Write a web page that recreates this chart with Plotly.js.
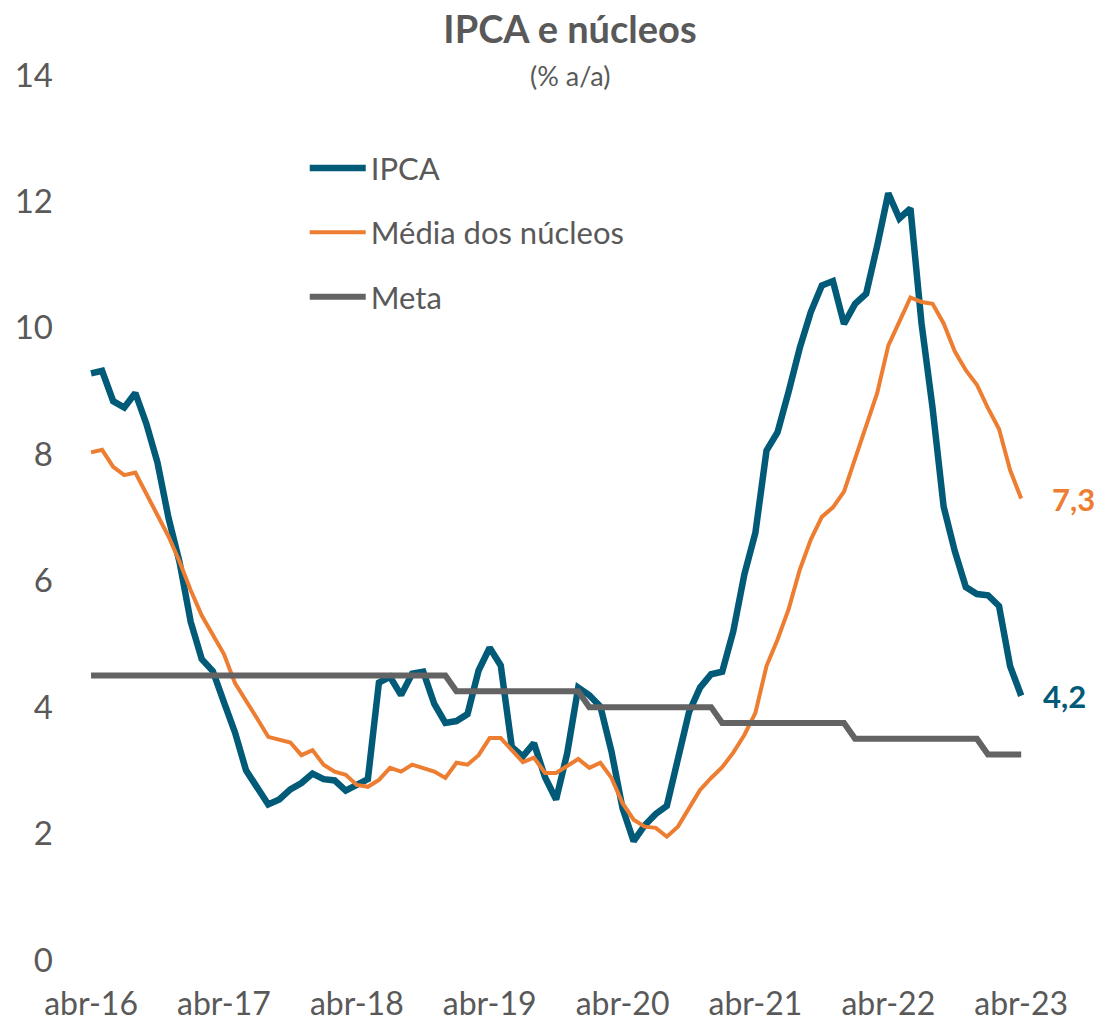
<!DOCTYPE html>
<html>
<head>
<meta charset="utf-8">
<script src="https://cdn.plot.ly/plotly-3.0.1.min.js"></script>
<style>html,body{margin:0;padding:0;background:#fff;}#chart{width:1102px;height:1025px;}</style>
</head>
<body>
<div id="chart"></div>
<script>
// Monthly observations, abr-2016 .. abr-2023 (85 months)
const months = [
  "abr-16","mai-16","jun-16","jul-16","ago-16","set-16","out-16","nov-16","dez-16",
  "jan-17","fev-17","mar-17","abr-17","mai-17","jun-17","jul-17","ago-17","set-17","out-17","nov-17","dez-17",
  "jan-18","fev-18","mar-18","abr-18","mai-18","jun-18","jul-18","ago-18","set-18","out-18","nov-18","dez-18",
  "jan-19","fev-19","mar-19","abr-19","mai-19","jun-19","jul-19","ago-19","set-19","out-19","nov-19","dez-19",
  "jan-20","fev-20","mar-20","abr-20","mai-20","jun-20","jul-20","ago-20","set-20","out-20","nov-20","dez-20",
  "jan-21","fev-21","mar-21","abr-21","mai-21","jun-21","jul-21","ago-21","set-21","out-21","nov-21","dez-21",
  "jan-22","fev-22","mar-22","abr-22","mai-22","jun-22","jul-22","ago-22","set-22","out-22","nov-22","dez-22",
  "jan-23","fev-23","mar-23","abr-23"
];

const ipca = [
  9.28, 9.32, 8.84, 8.74, 8.97, 8.48, 7.87, 6.99, 6.29,
  5.35, 4.76, 4.57, 4.08, 3.60, 3.00, 2.71, 2.46, 2.54, 2.70, 2.80, 2.95,
  2.86, 2.84, 2.68, 2.76, 2.86, 4.39, 4.48, 4.19, 4.53, 4.56, 4.05, 3.75,
  3.78, 3.89, 4.58, 4.94, 4.66, 3.37, 3.22, 3.43, 2.89, 2.54, 3.27, 4.31,
  4.19, 4.01, 3.30, 2.40, 1.88, 2.13, 2.31, 2.44, 3.14, 3.92, 4.31, 4.52,
  4.56, 5.20, 6.10, 6.76, 8.06, 8.35, 8.99, 9.68, 10.25, 10.67, 10.74, 10.06,
  10.38, 10.54, 11.30, 12.13, 11.73, 11.89, 10.07, 8.73, 7.17, 6.47, 5.90, 5.79,
  5.77, 5.60, 4.65, 4.18
];

const mediaNucleos = [
  8.03, 8.07, 7.80, 7.67, 7.71, 7.37, 7.05, 6.70, 6.30,
  5.85, 5.45, 5.13, 4.84, 4.38, 4.11, 3.82, 3.53, 3.49, 3.44, 3.24, 3.32,
  3.09, 2.98, 2.93, 2.77, 2.74, 2.85, 3.04, 2.98, 3.09, 3.03, 2.98, 2.88,
  3.12, 3.09, 3.24, 3.51, 3.51, 3.32, 3.13, 3.20, 2.96, 2.96, 3.07, 3.18,
  3.04, 3.12, 2.88, 2.48, 2.22, 2.11, 2.09, 1.95, 2.11, 2.40, 2.69, 2.88,
  3.05, 3.28, 3.56, 3.91, 4.65, 5.07, 5.55, 6.17, 6.65, 7.01, 7.16, 7.41,
  7.95, 8.45, 8.97, 9.72, 10.10, 10.48, 10.41, 10.38, 10.07, 9.63, 9.33, 9.10,
  8.73, 8.40, 7.75, 7.30
];

const meta = [
  4.5, 4.5, 4.5, 4.5, 4.5, 4.5, 4.5, 4.5, 4.5,
  4.5, 4.5, 4.5, 4.5, 4.5, 4.5, 4.5, 4.5, 4.5, 4.5, 4.5, 4.5,
  4.5, 4.5, 4.5, 4.5, 4.5, 4.5, 4.5, 4.5, 4.5, 4.5, 4.5, 4.5,
  4.25, 4.25, 4.25, 4.25, 4.25, 4.25, 4.25, 4.25, 4.25, 4.25, 4.25, 4.25,
  4.0, 4.0, 4.0, 4.0, 4.0, 4.0, 4.0, 4.0, 4.0, 4.0, 4.0, 4.0,
  3.75, 3.75, 3.75, 3.75, 3.75, 3.75, 3.75, 3.75, 3.75, 3.75, 3.75, 3.75,
  3.5, 3.5, 3.5, 3.5, 3.5, 3.5, 3.5, 3.5, 3.5, 3.5, 3.5, 3.5,
  3.25, 3.25, 3.25, 3.25
];

const tickLabels = ["abr-16","abr-17","abr-18","abr-19","abr-20","abr-21","abr-22","abr-23"];
const yTicks = [0, 2, 4, 6, 8, 10, 12, 14];

const xIdx = months.map((_, i) => i);
const tickVals = tickLabels.map(l => months.indexOf(l));

const FONT = "Lato, 'Open Sans', sans-serif";
const GREY = "#595959";
const TEAL = "#005A78";
const ORANGE = "#ED7D31";
const METAC = "#636363";

const traces = [
  {x: xIdx, y: ipca, name: "IPCA", type: "scatter", mode: "lines",
   line: {color: TEAL, width: 6.5}, legendgroup: "a", hoverinfo: "skip"},
  {x: xIdx, y: mediaNucleos, name: "Média dos núcleos", type: "scatter", mode: "lines",
   line: {color: ORANGE, width: 4}, legendgroup: "b", hoverinfo: "skip"},
  {x: xIdx, y: meta, name: "Meta", type: "scatter", mode: "lines",
   line: {color: METAC, width: 6}, legendgroup: "c", hoverinfo: "skip"}
];

const last = months.length - 1;

const layout = {
  width: 1102, height: 1025,
  paper_bgcolor: "#ffffff", plot_bgcolor: "#ffffff",
  margin: {l: 70, r: 62, t: 75, b: 65},
  font: {family: FONT, color: GREY, size: 32},
  title: {text: "<b>IPCA e núcleos</b>", font: {family: FONT, size: 38, color: GREY},
          x: 570/1102, xref: "container", xanchor: "center", y: 1 - 30/1025, yref: "container", yanchor: "middle"},
  xaxis: {range: [-1.9, 85.7], tickmode: "array", tickvals: tickVals, ticktext: tickLabels,
          showgrid: false, zeroline: false, showline: false, ticks: "", ticklabelstandoff: 22,
          tickfont: {family: FONT, size: 32, color: GREY}, fixedrange: true},
  yaxis: {range: [0, 14], tickmode: "array", tickvals: yTicks, ticktext: yTicks.map(String),
          showgrid: false, zeroline: false, showline: false, ticks: "", ticklabelstandoff: 16,
          tickfont: {family: FONT, size: 33, color: GREY}, fixedrange: true},
  showlegend: true,
  legend: {x: 0.242, y: 0.925, xanchor: "left", yanchor: "top", bgcolor: "rgba(0,0,0,0)",
           font: {family: FONT, size: 31, color: GREY}, traceorder: "grouped", tracegroupgap: 21,
           itemwidth: 56},
  annotations: [
    {x: 0.515, y: 1.0, xref: "paper", yref: "paper", text: "(% a/a)", showarrow: false,
     xanchor: "center", yanchor: "middle", font: {family: FONT, size: 27, color: GREY}},
    {x: last, y: mediaNucleos[last], xref: "x", yref: "y", text: "<b>" + mediaNucleos[last].toFixed(1).replace(".", ",") + "</b>",
     showarrow: false, xanchor: "left", yanchor: "middle", xshift: 29, font: {family: FONT, size: 31, color: ORANGE}},
    {x: last, y: ipca[last], xref: "x", yref: "y", text: "<b>" + ipca[last].toFixed(1).replace(".", ",") + "</b>",
     showarrow: false, xanchor: "left", yanchor: "middle", xshift: 20, font: {family: FONT, size: 31, color: TEAL}}
  ]
};

Plotly.newPlot("chart", traces, layout, {displayModeBar: false, staticPlot: true});
</script>
</body>
</html>
